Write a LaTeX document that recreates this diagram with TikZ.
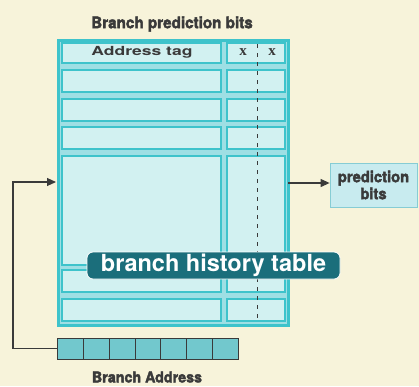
\documentclass[tikz,border=0pt]{standalone}
\usepackage{fontspec}
\setmainfont{TeX Gyre Heros}
\newfontfamily\condfont[FakeStretch=0.95,FakeBold=2.5]{TeX Gyre Heros Bold}
\newfontfamily\widefont[FakeStretch=1.4]{TeX Gyre Heros Bold}
\newfontfamily\labelfont{TeX Gyre Heros Bold}
\newfontfamily\serifx{Liberation Serif Bold}
\usetikzlibrary{arrows.meta}
\definecolor{bg}{HTML}{F7F3DA}
\definecolor{tealb}{HTML}{3EC3CB}
\definecolor{band}{HTML}{9EDFE4}
\definecolor{cellf}{HTML}{D2F1F1}
\definecolor{labf}{HTML}{1B6E7B}
\definecolor{dark}{HTML}{3A3A3A}
\definecolor{regf}{HTML}{72C8CD}
\definecolor{predf}{HTML}{C8EBEF}
\definecolor{predb}{HTML}{86CCD4}
\tikzset{
  cell/.style={draw=tealb, line width=1.8pt, fill=cellf},
  regcell/.style={draw=dark, line width=0.9pt, fill=regf, minimum width=25.86pt, minimum height=21pt, inner sep=0pt, anchor=west},
  arr/.style={draw=dark, line width=1.1pt, -{Triangle[length=9pt,width=8pt]}},
  cond/.style={text=dark, inner sep=0pt},
}
\begin{document}
\begin{tikzpicture}[x=1pt,y=-1pt]
\fill[bg] (0,0) rectangle (419,386);
\useasboundingbox (0,0) rectangle (419,386);
% title
\node[cond, font=\condfont\fontsize{16}{16}\selectfont] (title) at (172,24) {Branch prediction bits};
% table outer
\node[draw=tealb, line width=3pt, fill=band, minimum width=230pt, minimum height=285pt, inner sep=0pt] (tbl) at (173,182.5) {};
% rows
\foreach \a/\b [count=\i] in {43/63,70/92,99/121,127/149,156/265,270/292,299/321}{
  \draw[cell] (62,\a) rectangle (221,\b);
  \draw[cell] (227,\a) rectangle (285,\b);
}
\draw[dark, line width=0.6pt, dash pattern=on 4pt off 5pt] (257,44) -- (257,321);
\node[text=dark, font=\widefont\fontsize{12.5}{13}\selectfont, inner sep=0pt] (tag) at (142,52.5) {Address tag};
\node[text=dark, font=\serifx\fontsize{15}{15}\selectfont, inner sep=0pt] (x1) at (243,52) {x};
\node[text=dark, font=\serifx\fontsize{15}{15}\selectfont, inner sep=0pt] (x2) at (272,52) {x};
% label
\node[draw=white, line width=0.8pt, fill=labf, rounded corners=6pt, minimum width=253pt, minimum height=27pt, inner sep=0pt, text=white, font=\labelfont\fontsize{23.5}{24}\selectfont] (lab) at (213.5,265.5) {branch history table};
% prediction bits
\node[draw=predb, line width=0.8pt, fill=predf, minimum width=87pt, minimum height=44pt, inner sep=0pt, align=center, text=dark, font=\condfont\fontsize{15.5}{17}\selectfont] (pred) at (373.5,185) {prediction\\bits};
\draw[arr] (288,183) -- (pred.west |- 0,183);
% register
\foreach \k in {0,...,6}{
  \node[regcell] (r\k) at ({57+25.86*\k},348.5) {};
}
\node[cond, font=\condfont\fontsize{15}{15}\selectfont] (ba) at (147,377) {Branch Address};
\coordinate (in) at (56,182);
\draw[arr] (r0.west) -- ++(-44,0) |- (in);
\end{tikzpicture}
\end{document}
